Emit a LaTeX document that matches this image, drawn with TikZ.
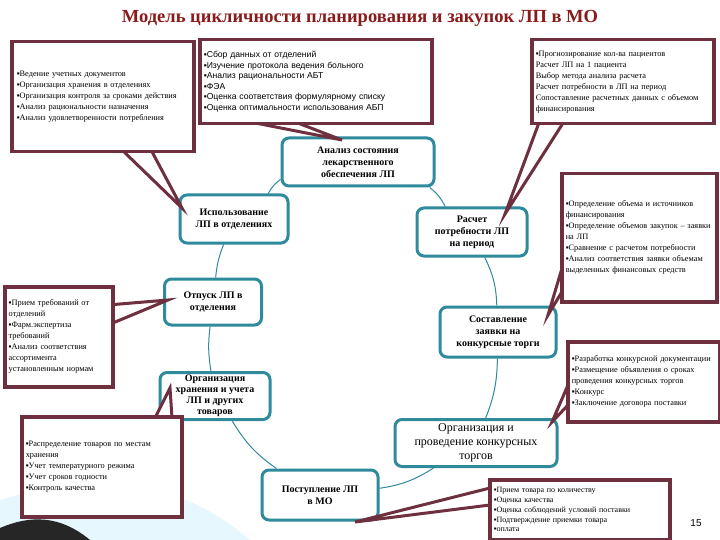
\documentclass[tikz,border=0pt]{standalone}
\usepackage{fontspec}
\setmainfont{Liberation Serif}
\newfontfamily\sansf{Liberation Sans}
\usetikzlibrary{backgrounds}
\definecolor{maroon}{HTML}{6E2F3F}
\definecolor{teal2}{HTML}{2F8A9C}
\definecolor{ttl}{HTML}{8B1A1A}
\begin{document}
\begin{tikzpicture}[x=1pt,y=-1pt,
  cyc/.style={draw=teal2,line width=3pt,rounded corners=7pt,fill=white,align=center,font=\bfseries\fontsize{10}{12}\selectfont,inner sep=2pt},
  info/.style={draw=maroon,line width=3.5pt,fill=white,align=left,anchor=north west,font=\fontsize{8.3}{11}\selectfont,inner sep=4pt},
  wedge/.style={draw=maroon,line width=3pt,fill=white,line join=miter},
  link/.style={draw=teal2,line width=1pt}]
\useasboundingbox (0,0) rectangle (720,540);
\node[font=\bfseries\fontsize{18.5}{21}\selectfont,text=ttl] (title) at (360,18) {Модель цикличности планирования и закупок ЛП в МО};

% cycle nodes
\node[cyc,minimum width=152,minimum height=48] (an) at (358,162) {Анализ состояния\\лекарственного\\обеспечения ЛП};
\node[cyc,minimum width=108,minimum height=48] (isp) at (234,219) {Использование\\ЛП в отделениях};
\node[cyc,minimum width=110,minimum height=48] (ras) at (472,232) {Расчет\\потребности ЛП\\на период};
\node[cyc,minimum width=97,minimum height=46] (otp) at (213,302) {Отпуск ЛП в\\отделения};
\node[cyc,minimum width=116,minimum height=50] (sost) at (498,332) {Составление\\заявки на\\конкурсные торги};
\node[cyc,minimum width=110,minimum height=47,font=\bfseries\fontsize{10}{11}\selectfont] (hran) at (215,396) {Организация\\хранения и учета\\ЛП и других\\товаров};
\node[cyc,minimum width=162,minimum height=47,font=\fontsize{12}{14}\selectfont] (prov) at (476,443) {Организация и\\проведение конкурсных\\торгов};
\node[cyc,minimum width=116,minimum height=50] (post) at (320,495) {Поступление ЛП\\в МО};

\begin{scope}[on background layer]
\fill[white] (0,0) rectangle (720,540);
\fill[cyan!10] (0,500) .. controls (100,470) and (180,480) .. (250,540) -- (0,540) -- cycle;
\fill[black!85] (0,528) .. controls (30,515) and (60,515) .. (90,540) -- (0,540) -- cycle;
\path[link] (an) to[bend left=12] (ras) (ras) to[bend left=12] (sost) (sost) to[bend left=10] (prov) (prov) to[bend left=12] (post)
 (post) to[bend left=12] (hran) (hran) to[bend left=8] (otp) (otp) to[bend left=8] (isp) (isp) to[bend left=12] (an);
\end{scope}

% callout wedges
\coordinate (tA) at (182,208);
\coordinate (tB) at (342,140);
\coordinate (tC) at (505,214);
\coordinate (tD) at (548,315);
\coordinate (tE) at (552,422);
\coordinate (tF) at (168,300);
\coordinate (tG) at (170,388);
\coordinate (tH) at (355,522);
\draw[wedge] (120,148) -- (tA) -- (150,148);
\draw[wedge] (240,120) -- (tB) -- (290,120);
\draw[wedge] (540,120) -- (tC) -- (565,120);
\draw[wedge] (563,265) -- (tD) -- (563,290);
\draw[wedge] (568,385) -- (tE) -- (568,405);
\draw[wedge] (108,305) -- (tF) -- (108,325);
\draw[wedge] (155,418) -- (tG) -- (172,418);
\draw[wedge] (490,488) -- (tH) -- (490,505);

% info boxes
\node[info,minimum width=182,minimum height=110,text width=172] (bA) at (10,40) {▪Ведение учетных документов\\▪Организация хранения в отделениях\\▪Организация контроля за сроками действия\\▪Анализ рациональности назначения\\▪Анализ удовлетворенности потребления};
\node[info,minimum width=232,minimum height=84,text width=224,font=\sansf\fontsize{8.6}{10.5}\selectfont] (bB) at (198,38) {▪Сбор данных от отделений\\▪Изучение протокола ведения больного\\▪Анализ рациональности АБТ\\▪ФЭА\\▪Оценка соответствия формулярному списку\\▪Оценка оптимальности использования АБП};
\node[info,minimum width=182,minimum height=84,text width=174] (bC) at (530,38) {▪Прогнозирование кол-ва пациентов\\Расчет ЛП на 1 пациента\\Выбор метода анализа расчета\\Расчет потребности в ЛП на период\\Сопоставление расчетных данных с объемом финансирования};
\node[info,minimum width=155,minimum height=128,text width=147] (bD) at (560,172) {▪Определение объема и источников финансирования\\▪Определение объемов закупок – заявки на ЛП\\▪Сравнение с расчетом потребности\\▪Анализ соответствия заявки объемам выделенных финансовых средств};
\node[info,minimum width=150,minimum height=80,text width=144] (bE) at (566,340) {▪Разработка конкурсной документации\\▪Размещение объявления о сроках проведения конкурсных торгов\\▪Конкурс\\▪Заключение договора поставки};
\node[info,minimum width=108,minimum height=100,text width=100] (bF) at (3,285) {▪Прием требований от отделений\\▪Фарм.экспертиза требований\\▪Анализ соответствия ассортимента установленным нормам};
\node[info,minimum width=160,minimum height=100,text width=152] (bG) at (20,415) {▪Распределение товаров по местам хранения\\▪Учет температурного режима\\▪Учет сроков годности\\▪Контроль качества};
\node[info,minimum width=180,minimum height=60,text width=172,font=\fontsize{8}{9.8}\selectfont] (bH) at (488,478) {▪Прием товара по количеству\\▪Оценка качества\\▪Оценка соблюдений условий поставки\\▪Подтверждение приемки товара\\▪оплата};
\node[font=\sansf\fontsize{10}{11}\selectfont] (pg) at (696,523) {15};
\end{tikzpicture}
\end{document}
